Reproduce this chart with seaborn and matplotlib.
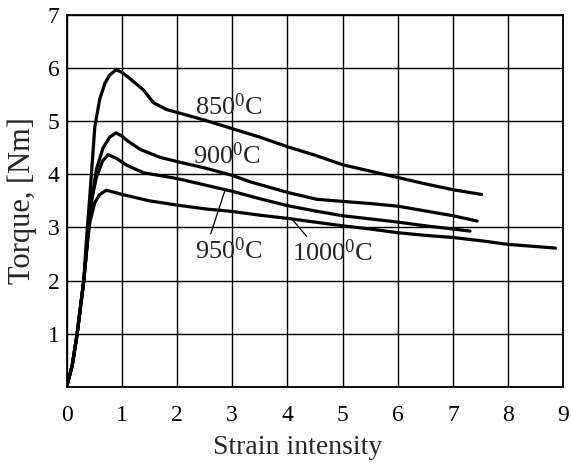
import pandas as pd
import matplotlib
matplotlib.use("Agg")
import matplotlib.pyplot as plt
import seaborn as sns

# Torque vs strain intensity
x_850 = [0, 0.1, 0.19, 0.31, 0.36, 0.42, 0.51, 0.6, 0.695, 0.78, 0.895, 1.0, 1.15, 1.39, 1.57, 1.81, 2.02,
         2.5, 3.0, 3.5, 4.0, 4.5, 5.0, 5.5, 6.0, 6.5, 7.0, 7.52]
y_850 = [0, 0.4, 1.0, 2.0, 2.8, 3.6, 4.9, 5.42, 5.72, 5.87, 5.97, 5.92, 5.8, 5.59, 5.35, 5.22, 5.16,
         5.02, 4.86, 4.7, 4.52, 4.36, 4.18, 4.06, 3.94, 3.82, 3.71, 3.62]

x_900 = [0, 0.1, 0.19, 0.31, 0.38, 0.45, 0.54, 0.66, 0.78, 0.895, 1.0, 1.09, 1.33, 1.69, 2.0, 2.5,
         3.0, 3.32, 4.0, 4.53, 5.0, 5.5, 6.0, 6.5, 7.0, 7.44]
y_900 = [0, 0.4, 1.0, 2.0, 2.8, 3.5, 4.1, 4.5, 4.7, 4.78, 4.72, 4.64, 4.47, 4.32, 4.24, 4.12,
         3.98, 3.86, 3.66, 3.53, 3.49, 3.45, 3.4, 3.31, 3.22, 3.12]

x_950 = [0, 0.1, 0.19, 0.31, 0.38, 0.45, 0.54, 0.65, 0.75, 0.9, 1.09, 1.39, 2.0, 2.5, 3.0, 3.5,
         4.0, 4.5, 5.0, 5.5, 6.0, 6.5, 7.0, 7.31]
y_950 = [0, 0.4, 1.0, 2.0, 2.8, 3.5, 3.95, 4.25, 4.37, 4.3, 4.17, 4.03, 3.92, 3.8, 3.68, 3.54,
         3.41, 3.31, 3.22, 3.16, 3.1, 3.03, 2.97, 2.93]

x_1000 = [0, 0.1, 0.19, 0.31, 0.38, 0.42, 0.51, 0.6, 0.72, 0.9, 1.09, 1.5, 2.0, 2.5, 3.0, 3.5,
          4.0, 4.5, 5.0, 5.5, 6.0, 6.5, 7.0, 7.5, 8.0, 8.5, 8.86]
y_1000 = [0, 0.4, 1.0, 2.0, 2.75, 3.1, 3.47, 3.62, 3.7, 3.65, 3.6, 3.5, 3.42, 3.35, 3.3, 3.23,
          3.17, 3.1, 3.03, 2.97, 2.9, 2.85, 2.81, 2.75, 2.68, 2.64, 2.61]

curve_labels = ["850$^{0}$C", "900$^{0}$C", "950$^{0}$C", "1000$^{0}$C"]

sns.set_style("white")
plt.rcParams['font.family'] = ['Liberation Serif', 'DejaVu Serif']
plt.rcParams['mathtext.fontset'] = 'custom'
plt.rcParams['mathtext.rm'] = 'Liberation Serif'
plt.rcParams['mathtext.it'] = 'Liberation Serif'

fig = plt.figure(figsize=(5.71, 4.65), dpi=100)
ax = fig.add_axes([0.1168, 0.1684, 0.8697, 0.7993])

for xs, ys in [(x_850, y_850), (x_900, y_900), (x_950, y_950), (x_1000, y_1000)]:
    df = pd.DataFrame({"x": xs, "y": ys})
    sns.lineplot(data=df, x="x", y="y", ax=ax, color="black", linewidth=2.3,
                 estimator=None, sort=False)

ax.set_xlim(0, 9)
ax.set_ylim(0, 7)
ax.set_xticks(range(0, 10))
ax.set_yticks(range(0, 8))
ax.set_yticklabels([""] + [str(i) for i in range(1, 8)])
ax.grid(True, color="black", linewidth=1.0)
ax.set_axisbelow(True)
for sp in ax.spines.values():
    sp.set_color("black")
    sp.set_linewidth(1.3)
ax.tick_params(axis="both", length=0, labelsize=17, colors="black")
ax.tick_params(axis="x", pad=13)
ax.tick_params(axis="y", pad=5)

ax.set_xlabel("Strain intensity", fontsize=20)
ax.set_ylabel("Torque, [Nm]", fontsize=22)
ax.xaxis.set_label_coords(0.465, -0.13)
ax.yaxis.set_label_coords(-0.06, 0.5)

# curve labels and leader lines
ax.text(2.32, 5.12, curve_labels[0], fontsize=19, ha="left", va="baseline")
ax.text(2.29, 4.2, curve_labels[1], fontsize=19, ha="left", va="baseline")
ax.text(2.32, 2.41, curve_labels[2], fontsize=19, ha="left", va="baseline")
ax.text(4.09, 2.37, curve_labels[3], fontsize=19, ha="left", va="baseline")
ax.plot([2.61, 2.87], [2.88, 3.7], color="black", linewidth=0.9)
ax.plot([4.35, 4.08], [2.83, 3.16], color="black", linewidth=0.9)

fig.savefig("out.png", dpi=100, facecolor="white")
